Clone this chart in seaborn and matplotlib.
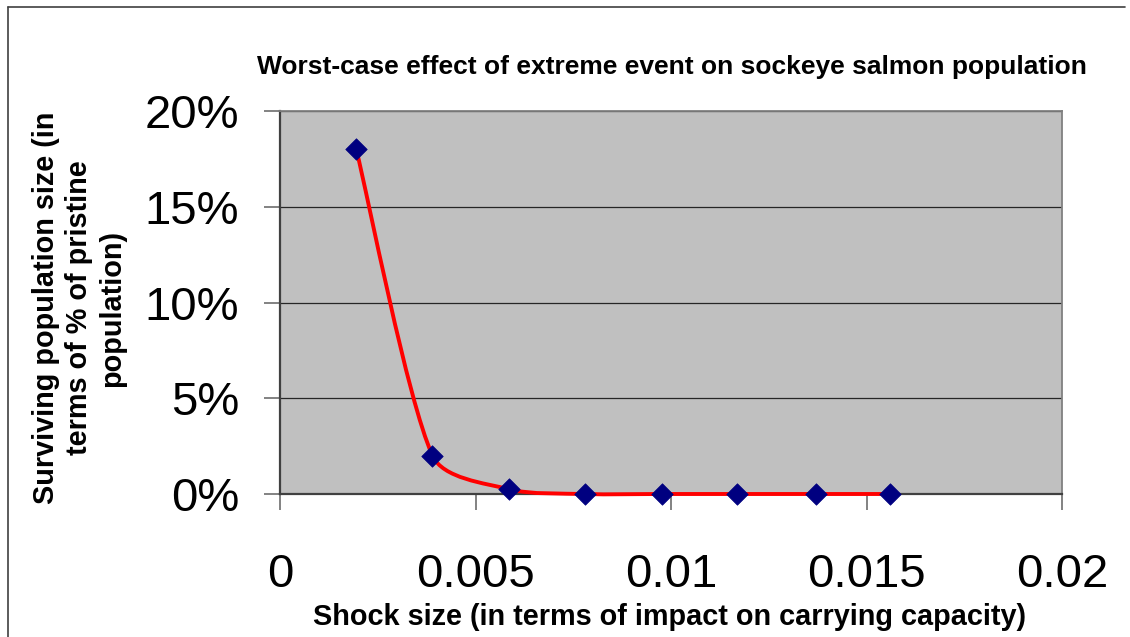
import numpy as np
import pandas as pd
import matplotlib
matplotlib.use("Agg")
import matplotlib.pyplot as plt
import seaborn as sns
from matplotlib.path import Path
from matplotlib.patches import PathPatch
from matplotlib.lines import Line2D
from matplotlib.ticker import PercentFormatter

# ---- data ----
shock_size = [0.00195, 0.0039, 0.00586, 0.0078, 0.00977, 0.0117, 0.0137, 0.0156]
surviving = [0.180, 0.020, 0.0025, 0.0, 0.0, 0.0, 0.0, 0.0]
x_ticks = [0, 0.005, 0.01, 0.015, 0.02]
x_tick_labels = ["0", "0.005", "0.01", "0.015", "0.02"]
y_ticks = [0, 0.05, 0.10, 0.15, 0.20]

title = "Worst-case effect of extreme event on sockeye salmon population"
x_label = "Shock size (in terms of impact on carrying capacity)"
y_label = "Surviving population size (in\nterms of % of pristine\npopulation)"

sns.set_style("white")
plt.rcParams["font.family"] = ["Liberation Sans", "DejaVu Sans"]
plt.rcParams["text.color"] = "black"

W, H = 1130, 637
fig = plt.figure(figsize=(W / 100, H / 100), dpi=100)
fig.patch.set_facecolor("white")
ax = fig.add_axes([280 / W, 1 - 494 / H, (1062 - 280) / W, (494 - 111) / H])
ax.set_facecolor("#C0C0C0")
ax.set_xlim(0, 0.02)
ax.set_ylim(0, 0.20)

# gridlines
ax.set_yticks(y_ticks)
ax.yaxis.grid(True, color="#262626", linewidth=0.9)
ax.xaxis.grid(False)
ax.set_axisbelow(True)

# smoothed line (Excel-style Bezier through the data points, computed in display space)
df = pd.DataFrame({"x": shock_size, "y": surviving})
pts = ax.transData.transform(np.column_stack([df["x"], df["y"]]))
n = len(pts)
verts = [pts[0]]
codes = [Path.MOVETO]
for i in range(n - 1):
    p0 = pts[max(i - 1, 0)]
    p1 = pts[i]
    p2 = pts[i + 1]
    p3 = pts[min(i + 2, n - 1)]
    chord = np.linalg.norm(p2 - p1)
    t1 = (p2 - p0) / 6.0
    t2 = (p3 - p1) / 6.0
    lim = 0.3 * chord
    for t in (t1, t2):
        ln = np.linalg.norm(t)
        if ln > lim and ln > 0:
            t *= lim / ln
    verts += [p1 + t1, p2 - t2, p2]
    codes += [Path.CURVE4] * 3
verts_data = ax.transData.inverted().transform(np.array(verts))
ax.add_patch(PathPatch(Path(verts_data, codes), facecolor="none",
                       edgecolor="#FF0000", linewidth=2.8, zorder=3,
                       clip_on=False, capstyle="butt"))

sns.scatterplot(data=df, x="x", y="y", marker="D", s=120, color="#000080",
                edgecolor="#000080", linewidth=0.5, zorder=4, ax=ax,
                legend=False, clip_on=False)

# spines
for side in ["left", "bottom"]:
    ax.spines[side].set_color("#404040")
    ax.spines[side].set_linewidth(1.6)
    ax.spines[side].set_zorder(2.5)
for side in ["top", "right"]:
    ax.spines[side].set_color("#808080")
    ax.spines[side].set_linewidth(1.3)

ax.set_xticks(x_ticks)
ax.set_xticklabels(x_tick_labels)
ax.yaxis.set_major_formatter(PercentFormatter(1.0, decimals=0))
ax.tick_params(axis="both", which="major", direction="out", length=11.5,
               width=1.1, color="#606060", labelsize=34, labelcolor="black",
               bottom=True, left=True, top=False, right=False)
ax.tick_params(axis="x", pad=31)
ax.tick_params(axis="y", pad=18)
ax.set_xlabel("")
ax.set_ylabel("")

fig.text(672 / W, 1 - 67 / H, title, ha="center", va="center",
         fontsize=19, fontweight="bold", color="black")
fig.text(670 / W, 1 - 617 / H, x_label, ha="center", va="center",
         fontsize=20.8, fontweight="bold", color="black")
fig.text(79 / W, 1 - 308 / H, y_label, ha="center", va="center",
         rotation=90, multialignment="center", linespacing=1.22,
         fontsize=20.8, fontweight="bold", color="black")

# outer chart frame (top and left edges visible)
fig.add_artist(Line2D([8 / W, 8 / W], [0, 1 - 7 / H], transform=fig.transFigure,
                      color="#404040", linewidth=1.2))
fig.add_artist(Line2D([8 / W, 1125 / W], [1 - 7 / H, 1 - 7 / H],
                      transform=fig.transFigure, color="#404040", linewidth=1.2))

fig.savefig("out.png", dpi=100, facecolor="white")
